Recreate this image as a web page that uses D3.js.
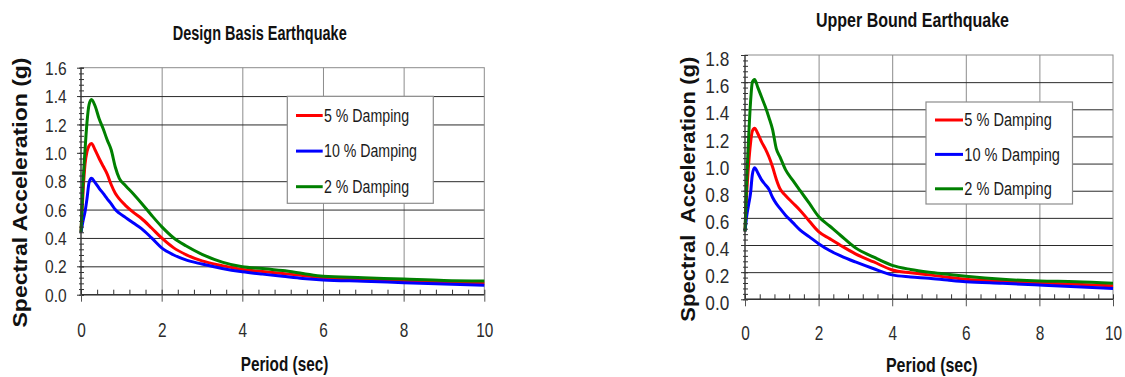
<!DOCTYPE html>
<html>
<head>
<meta charset="utf-8">
<script src="https://cdn.jsdelivr.net/npm/d3@7"></script>
<style>
  body { margin: 0; background: #fff; }
  svg { display: block; background: #fff; }
</style>
</head>
<body>
<svg id="chart" width="1125" height="377"></svg>
<script>
// period grid (sec), shared by every curve
var periods = [0, 0.05, 0.1, 0.15, 0.2, 0.26, 0.35, 0.45, 0.55, 0.65, 0.75, 0.85, 0.95, 1.1, 1.3, 1.5, 1.75, 2.0, 2.3, 2.6, 3.0, 3.5, 4.0, 4.5, 5.0, 5.5, 6.0, 7.0, 8.0, 9.0, 10.0]

// Design Basis Earthquake, spectral acceleration (g)
var dbe5  = [0.44, 0.72, 0.92, 1.01, 1.05, 1.066, 1.02, 0.96, 0.905, 0.85, 0.775, 0.715, 0.675, 0.63, 0.58, 0.537, 0.47, 0.40, 0.33, 0.283, 0.238, 0.205, 0.178, 0.163, 0.15, 0.135, 0.12, 0.108, 0.097, 0.088, 0.08]
var dbe10 = [0.44, 0.52, 0.585, 0.68, 0.79, 0.82, 0.79, 0.75, 0.714, 0.676, 0.64, 0.60, 0.575, 0.545, 0.505, 0.466, 0.40, 0.33, 0.28, 0.245, 0.216, 0.185, 0.162, 0.145, 0.13, 0.115, 0.104, 0.095, 0.085, 0.075, 0.066]
var dbe2  = [0.44, 0.78, 1.02, 1.22, 1.34, 1.376, 1.33, 1.24, 1.17, 1.09, 1.02, 0.90, 0.82, 0.77, 0.71, 0.645, 0.56, 0.48, 0.40, 0.345, 0.285, 0.23, 0.197, 0.185, 0.17, 0.15, 0.13, 0.12, 0.11, 0.10, 0.096]

// Upper Bound Earthquake, spectral acceleration (g)
var ube5  = [0.5, 0.8, 1.0, 1.15, 1.24, 1.26, 1.22, 1.16, 1.11, 1.05, 0.975, 0.885, 0.815, 0.765, 0.71, 0.655, 0.575, 0.498, 0.447, 0.397, 0.335, 0.275, 0.216, 0.195, 0.18, 0.163, 0.147, 0.133, 0.122, 0.11, 0.10]
var ube10 = [0.5, 0.62, 0.70, 0.78, 0.92, 0.97, 0.93, 0.88, 0.845, 0.81, 0.75, 0.705, 0.67, 0.62, 0.565, 0.51, 0.46, 0.41, 0.36, 0.32, 0.275, 0.225, 0.18, 0.165, 0.155, 0.142, 0.13, 0.118, 0.105, 0.092, 0.08]
var ube2  = [0.5, 0.9, 1.2, 1.45, 1.6, 1.62, 1.56, 1.49, 1.42, 1.34, 1.25, 1.11, 1.05, 0.955, 0.876, 0.80, 0.706, 0.61, 0.54, 0.47, 0.38, 0.31, 0.25, 0.22, 0.20, 0.185, 0.17, 0.147, 0.135, 0.13, 0.118]

var legendLabels = ["5 % Damping", "10 % Damping", "2 % Damping"]
var seriesColors = ["#ff0000", "#0000ff", "#008000"]

var xTicks = [0, 2, 4, 6, 8, 10]
var dbeYTicks = [0, 0.2, 0.4, 0.6, 0.8, 1.0, 1.2, 1.4, 1.6]
var ubeYTicks = [0, 0.2, 0.4, 0.6, 0.8, 1.0, 1.2, 1.4, 1.6, 1.8]
var dbeGrid = [0.2, 0.4, 0.6, 0.8, 1.2, 1.4]   // the 1.0 line doesn't show in this panel
var ubeGrid = [0.2, 0.4, 0.6, 0.8, 1.0, 1.2, 1.4, 1.6]

var font = '"Liberation Sans", Arial, sans-serif'

var svg = d3.select("#chart")

// no narrow face installed: squeeze the glyphs horizontally instead
function squeeze(sel, f) {
  sel.each(function() {
    var len = this.getComputedTextLength()
    d3.select(this).attr("textLength", len * f).attr("lengthAdjust", "spacingAndGlyphs")
  })
}

var panels = [
  {
    title: "Design Basis Earthquake", yTitle: "Spectral Acceleration (g)",
    series: [dbe5, dbe10, dbe2], yTicks: dbeYTicks, grid: dbeGrid, yMax: 1.6,
    left: 81, right: 484.3, top: 67.7, bottom: 294.7,
    titleX: 259.7, titleY: 40, titleLen: 174,
    yTitleX: 27, yTitleY: 192.5, yTitleLen: 270,
    xTitleX: 284.5, xTitleY: 371, xTitleLen: 87.6,
    yLabelSize: 18.5, yLabelDy: "0.36em", yLabelRight: 66.7, xLabelY: 42,
    legend: { x: 287.3, y: 96.3, w: 146, h: 107, rowY: 115.5, step: 35.6, lx0: 296, lx1: 322.7, tx: 324, size: 17.5 }
  },
  {
    title: "Upper Bound Earthquake", yTitle: "Spectral  Acceleration (g)",
    series: [ube5, ube10, ube2], yTicks: ubeYTicks, grid: ubeGrid, yMax: 1.8,
    left: 745, right: 1113, top: 55, bottom: 299.3,
    titleX: 912.5, titleY: 27, titleLen: 193,
    yTitleX: 695, yTitleY: 189.2, yTitleLen: 265,
    xTitleX: 931.7, xTitleY: 372, xTitleLen: 91.6,
    yLabelSize: 20.5, yLabelDy: "0.52em", yLabelRight: 729.3, xLabelY: 40.7,
    legend: { x: 926, y: 102, w: 146.5, h: 102, rowY: 120, step: 34.4, lx0: 935, lx1: 963, tx: 964.3, size: 18 }
  }
]

panels.forEach(drawPanel)

function drawPanel(p) {
  var g = svg.append("g")
  var x = d3.scaleLinear().domain([0, 10]).range([p.left, p.right])
  var y = d3.scaleLinear().domain([0, p.yMax]).range([p.bottom, p.top])
  var w = p.right - p.left
  var h = p.bottom - p.top

  // vertical grid (gray)
  g.append("g")
    .attr("transform", `translate(0,${p.bottom})`)
    .call(d3.axisBottom(x).tickValues(xTicks.slice(1, -1)).tickSize(-h).tickFormat(""))
    .call(a => a.select(".domain").remove())
    .selectAll("line").attr("stroke", "#8c8c8c")

  // horizontal grid (dark)
  g.append("g")
    .attr("transform", `translate(${p.left},0)`)
    .call(d3.axisLeft(y).tickValues(p.grid).tickSize(-w).tickFormat(""))
    .call(a => a.select(".domain").remove())
    .selectAll("line").attr("stroke", "#2a2a2a")

  // plot frame
  g.append("rect")
    .attr("x", x(0)).attr("y", y(p.yMax))
    .attr("width", w).attr("height", h)
    .attr("fill", "none").attr("stroke", "#8c8c8c")

  // curves
  var line = d3.line()
    .x((d, i) => x(periods[i]))
    .y(d => y(d))
    .curve(d3.curveMonotoneX)

  p.series.forEach(function(vals, k) {
    g.append("path")
      .datum(vals)
      .attr("d", line)
      .attr("fill", "none")
      .attr("stroke", seriesColors[k])
      .attr("stroke-width", 3)
      .attr("stroke-linejoin", "round")
  })

  // axis lines
  g.append("line")
    .attr("x1", x(0)).attr("x2", x(0)).attr("y1", y(0)).attr("y2", y(p.yMax))
    .attr("stroke", "#333").attr("stroke-width", 1.2)
  g.append("line")
    .attr("x1", x(0)).attr("x2", x(10)).attr("y1", y(0)).attr("y2", y(0))
    .attr("stroke", "#333").attr("stroke-width", 1.4)

  // y minor ticks, crossing the axis
  var yMinor = d3.range(0, Math.round(p.yMax / 0.04) + 1).map(i => i * 0.04)
  g.append("g")
    .attr("transform", `translate(${p.left + 3},0)`)
    .call(d3.axisLeft(y).tickValues(yMinor).tickSize(5).tickFormat(""))
    .call(a => a.select(".domain").remove())
    .selectAll("line").attr("stroke", "#333")

  // y major ticks + labels
  var yAx = g.append("g")
    .attr("transform", `translate(${p.left + 3},0)`)
    .call(d3.axisLeft(y).tickValues(p.yTicks).tickSize(7).tickFormat(d3.format(".1f")))
    .call(a => a.select(".domain").remove())
  yAx.selectAll("line").attr("stroke", "#333")
  yAx.selectAll("text")
    .attr("x", p.yLabelRight - p.left - 3)
    .attr("dy", p.yLabelDy)
    .attr("fill", "#2b2b2b")
    .style("font-family", font)
    .style("font-size", p.yLabelSize + "px")
    .call(squeeze, 0.84)

  // x minor ticks (inside)
  var xMinor = d3.range(0, 26).map(i => i * 0.4)
  g.append("g")
    .attr("transform", `translate(0,${p.bottom})`)
    .call(d3.axisBottom(x).tickValues(xMinor).tickSize(-5).tickFormat(""))
    .call(a => a.select(".domain").remove())
    .selectAll("line").attr("stroke", "#333")

  // x major ticks + labels
  var xAx = g.append("g")
    .attr("transform", `translate(0,${p.bottom})`)
    .call(d3.axisBottom(x).tickValues(xTicks).tickSize(7).tickFormat(d3.format("d")))
    .call(a => a.select(".domain").remove())
  xAx.selectAll("line").attr("stroke", "#555")
  xAx.selectAll("text")
    .attr("y", p.xLabelY)
    .attr("dy", 0)
    .attr("fill", "#2b2b2b")
    .style("font-family", font)
    .style("font-size", "20.5px")
    .call(squeeze, 0.75)

  // legend
  var L = p.legend
  var lg = g.append("g")
  lg.append("rect")
    .attr("x", L.x).attr("y", L.y).attr("width", L.w).attr("height", L.h)
    .attr("fill", "#fff").attr("stroke", "#8c8c8c").attr("stroke-width", 1.2)
  legendLabels.forEach(function(lab, i) {
    var ly = L.rowY + i * L.step
    lg.append("line")
      .attr("x1", L.lx0).attr("x2", L.lx1).attr("y1", ly).attr("y2", ly)
      .attr("stroke", seriesColors[i]).attr("stroke-width", 3)
    lg.append("text")
      .attr("x", L.tx).attr("y", ly).attr("dy", "0.36em")
      .attr("fill", "#1a1a1a")
      .style("font-family", font)
      .style("font-size", L.size + "px")
      .text(lab)
      .call(squeeze, 0.81)
  })

  // titles
  g.append("text")
    .attr("x", p.titleX).attr("y", p.titleY)
    .attr("text-anchor", "middle")
    .attr("textLength", p.titleLen).attr("lengthAdjust", "spacingAndGlyphs")
    .style("font-family", font).style("font-weight", "bold").style("font-size", "20px")
    .attr("fill", "#111")
    .text(p.title)

  g.append("text")
    .attr("transform", `translate(${p.yTitleX},${p.yTitleY}) rotate(-90)`)
    .attr("text-anchor", "middle")
    .attr("textLength", p.yTitleLen).attr("lengthAdjust", "spacingAndGlyphs")
    .style("font-family", font).style("font-weight", "bold").style("font-size", "20px")
    .style("white-space", "pre")
    .attr("fill", "#111")
    .text(p.yTitle)

  g.append("text")
    .attr("x", p.xTitleX).attr("y", p.xTitleY)
    .attr("text-anchor", "middle")
    .attr("textLength", p.xTitleLen).attr("lengthAdjust", "spacingAndGlyphs")
    .style("font-family", font).style("font-weight", "bold").style("font-size", "21px")
    .attr("fill", "#111")
    .text("Period (sec)")
}
</script>
</body>
</html>
